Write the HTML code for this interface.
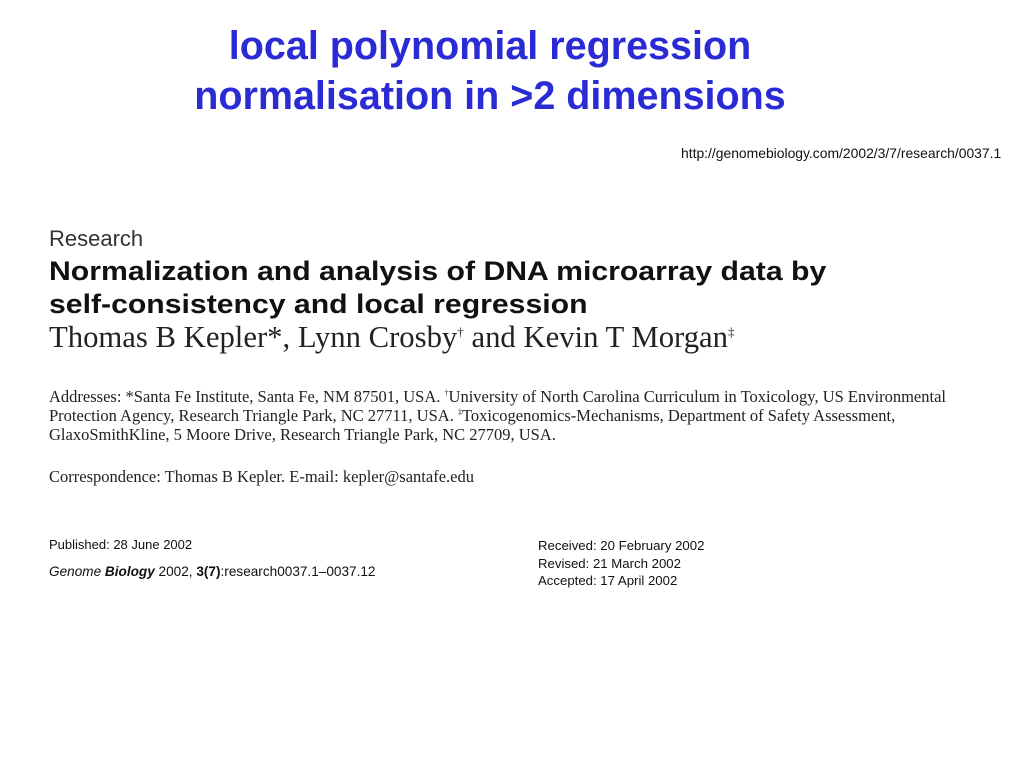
<!DOCTYPE html>
<html><head><meta charset="utf-8"><style>
body{margin:0;width:1024px;height:768px;background:#fff;position:relative;overflow:hidden}
div{position:absolute;white-space:nowrap}
.t{color:#2b2bd6;font:bold 39.5px "Liberation Sans",sans-serif;left:0;width:980px;text-align:center}
.s{font-family:"Liberation Sans",sans-serif;color:#111}
.r{font-family:"Liberation Serif",serif;color:#222}
sup{line-height:0}
</style></head><body>
<div class="t" style="top:24px">local polynomial regression</div>
<div class="t" style="top:74px">normalisation in &gt;2 dimensions</div>
<div class="s" style="left:681px;top:145px;font-size:13.9px">http://genomebiology.com/2002/3/7/research/0037.1</div>
<div class="s" style="left:49px;top:226px;font-size:22px;color:#333">Research</div>
<div class="s" style="left:49px;top:256px;font-size:27px;font-weight:bold;transform:scaleX(1.118);transform-origin:0 0">Normalization and analysis of DNA microarray data by</div>
<div class="s" style="left:49px;top:289px;font-size:27px;font-weight:bold;transform:scaleX(1.118);transform-origin:0 0">self-consistency and local regression</div>
<div class="r" style="left:49px;top:320px;font-size:30.7px">Thomas B Kepler*, Lynn Crosby<sup style="font-size:13px">†</sup> and Kevin T Morgan<sup style="font-size:13px">‡</sup></div>
<div class="r" style="left:49px;top:388px;font-size:16.5px;line-height:18.8px">Addresses: *Santa Fe Institute, Santa Fe, NM 87501, USA. <sup style="font-size:8px">†</sup>University of North Carolina Curriculum in Toxicology, US Environmental<br>Protection Agency, Research Triangle Park, NC 27711, USA. <sup style="font-size:8px">‡</sup>Toxicogenomics-Mechanisms, Department of Safety Assessment,<br>GlaxoSmithKline, 5 Moore Drive, Research Triangle Park, NC 27709, USA.</div>
<div class="r" style="left:49px;top:467px;font-size:16.5px">Correspondence: Thomas B Kepler. E-mail: kepler@santafe.edu</div>
<div class="s" style="left:49px;top:537px;font-size:13px">Published: 28 June 2002</div>
<div class="s" style="left:49px;top:564px;font-size:13.6px"><i>Genome</i> <b><i>Biology</i></b> 2002, <b>3(7)</b>:research0037.1–0037.12</div>
<div class="s" style="left:538px;top:537px;font-size:13.2px;line-height:17.5px">Received: 20 February 2002<br>Revised: 21 March 2002<br>Accepted: 17 April 2002</div>
</body></html>
